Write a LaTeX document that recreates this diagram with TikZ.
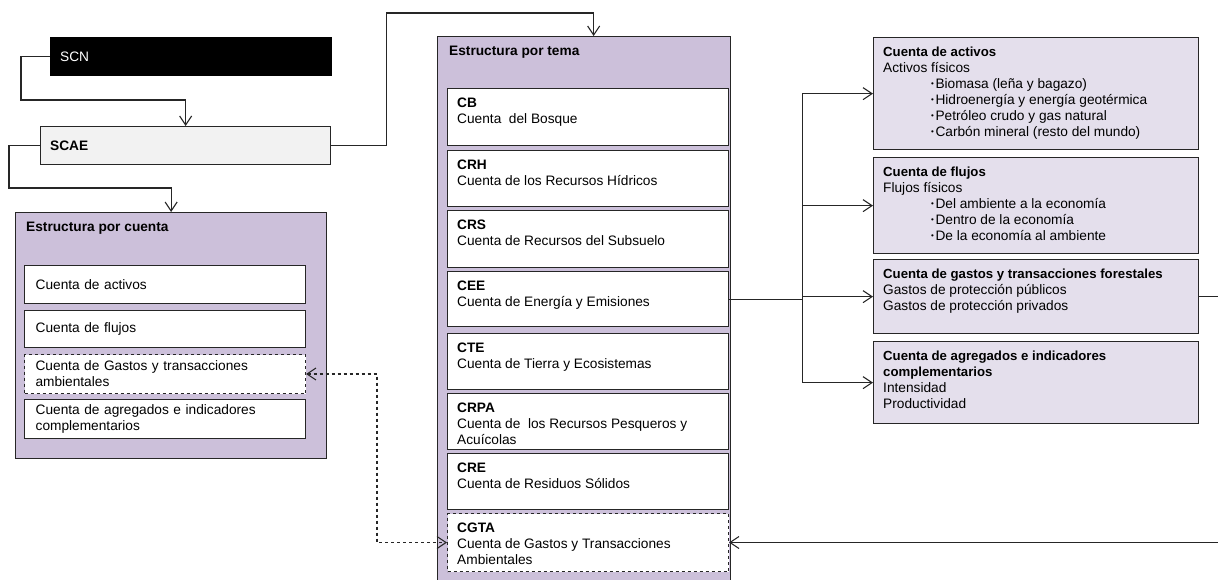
\documentclass[tikz,border=0pt]{standalone}
\usepackage{fontspec}
\setmainfont{Liberation Sans}
\usetikzlibrary{arrows.meta,calc}
\definecolor{lavd}{HTML}{CCC0DA}
\definecolor{lavl}{HTML}{E4DFEC}
\definecolor{grayl}{HTML}{F2F2F2}
\definecolor{edge}{HTML}{262626}
\newcommand\fs{\fontsize{13.7}{16}\selectfont}
\newcommand\hb{\fontsize{13.2}{16}\selectfont\bfseries}
\tikzset{
  x=1pt, y=-1pt,
  box/.style={draw=edge, line width=1.3pt, inner sep=0pt, anchor=north west},
  txt/.style={inner sep=0pt, anchor=north west, align=left, font=\fs},
  cbox/.style={draw=edge, line width=1.3pt, fill=white, anchor=north west, inner ysep=0pt, inner xsep=11pt,
    text width=259pt, align=left, font=\fs},
  arr/.style={line width=1.1pt, edge, -{Straight Barb[length=9pt,width=12pt,line width=1.1pt]}},
  darr/.style={line width=1.1pt, edge, dashed, {Straight Barb[length=9pt,width=12pt,line width=1.1pt]}-{Straight Barb[length=9pt,width=12pt,line width=1.1pt]}},
  ln/.style={line width=1.1pt, edge},
}
\newcommand\bx[7]{%
  \node[box,#6,minimum width=#4pt,minimum height=#5pt] (#1) at (#2,#3) {};
  \node[txt] (#1t) at ($(#1.north west)+(10,9.5)$) {#7};}
\newcommand\bul{\hspace*{48pt}\raisebox{1.8pt}{\fontsize{8}{8}\selectfont •}\hspace{1.5pt}}
\begin{document}
\begin{tikzpicture}
\useasboundingbox[fill=white] (0,0) rectangle (1218,580);

% SCN
\node[box, draw=black, fill=black, minimum width=281pt, minimum height=38pt] (scn) at (50,37) {};
\node[txt, text=white, anchor=west] (scnt) at ($(scn.west)+(10,0)$) {SCN};
% SCAE
\node[box, fill=grayl, minimum width=290pt, minimum height=38pt] (scae) at (40,126) {};
\node[txt, anchor=west] (scaet) at ($(scae.west)+(10,0)$) {\bfseries SCAE};

% Estructura por cuenta
\node[box, fill=lavd, minimum width=311pt, minimum height=246pt] (ecu) at (15,212) {};
\node[txt] (ecut) at ($(ecu.north west)+(11,10)$) {\bfseries Estructura por cuenta};
\node[cbox, minimum height=38pt] (cact) at (24,265) {Cuenta de activos};
\node[cbox, minimum height=37pt] (cflu) at (24,310) {Cuenta de flujos};
\node[cbox, dashed, line width=1pt, minimum height=39pt] (cgd) at (24,354) {Cuenta de Gastos y transacciones\\ambientales};
\node[cbox, minimum height=39pt] (cagr) at (24,399) {Cuenta de agregados e indicadores\\complementarios};

% Estructura por tema
\node[box, fill=lavd, minimum width=293pt, minimum height=570pt] (etm) at (437,36) {};
\node[txt] (etmt) at ($(etm.north west)+(12,10)$) {\bfseries Estructura por tema};
\bx{cb}{447}{88}{281}{57}{fill=white}{\bfseries CB\\Cuenta\ \ del Bosque}
\bx{crh}{447}{150}{281}{56}{fill=white}{\bfseries CRH\\Cuenta de los Recursos Hídricos}
\bx{crs}{447}{210}{281}{57}{fill=white}{\bfseries CRS\\Cuenta de Recursos del Subsuelo}
\bx{cee}{447}{271}{281}{55}{fill=white}{\bfseries CEE\\Cuenta de Energía y Emisiones}
\bx{cte}{447}{333}{281}{56}{fill=white}{\bfseries CTE\\Cuenta de Tierra y Ecosistemas}
\bx{crpa}{447}{393}{281}{56}{fill=white}{\bfseries CRPA\\Cuenta de\ \ los Recursos Pesqueros y\\Acuícolas}
\bx{cre}{447}{453}{281}{56}{fill=white}{\bfseries CRE\\Cuenta de Residuos Sólidos}
\bx{cgta}{447}{513}{281}{58}{fill=white,dashed,line width=1pt}{\bfseries CGTA\\Cuenta de Gastos y Transacciones\\Ambientales}

% Right boxes
\bx{ract}{873}{37}{325}{112}{fill=lavl}{\hb Cuenta de activos\\Activos físicos\\\bul Biomasa (leña y bagazo)\\\bul Hidroenergía y energía geotérmica\\\bul Petróleo crudo y gas natural\\\bul Carbón mineral (resto del mundo)}
\bx{rflu}{873}{157}{325}{96}{fill=lavl}{\hb Cuenta de flujos\\Flujos físicos\\\bul Del ambiente a la economía\\\bul Dentro de la economía\\\bul De la economía al ambiente}
\bx{rgas}{873}{259}{325}{74}{fill=lavl}{\hb Cuenta de gastos y transacciones forestales\\Gastos de protección públicos\\Gastos de protección privados}
\bx{ragr}{873}{341}{325}{82}{fill=lavl}{\hb Cuenta de agregados e indicadores\\\hb complementarios\\Intensidad\\Productividad}

% Connectors
\draw[arr] (scn.west) -- ++(-29,0) |- ($(scae.north)+(0,-26)$) -- (scae.north);
\draw[arr] (scae.west) -- ++(-31,0) |- ($(ecu.north)+(0,-24)$) -- (ecu.north);
\draw[arr] (scae.east) -- ++(55,0) |- ($(etm.north)+(9.5,-23)$) -- ($(etm.north)+(9.5,0)$);

\coordinate (fk) at ($(cee.east)+(73,0)$);
\draw[ln] (cee.east) -- (fk);
\draw[arr] (fk) |- (ract.west);
\draw[arr] (fk) |- (rflu.west);
\draw[arr] (fk) |- (rgas.west);
\draw[arr] (fk) |- (ragr.west);

\draw[arr] (rgas.east) -- ++(30,0) |- (cgta.east);
\draw[darr] (cgd.east) -- ++(71,0) |- (cgta.west);
\end{tikzpicture}
\end{document}
